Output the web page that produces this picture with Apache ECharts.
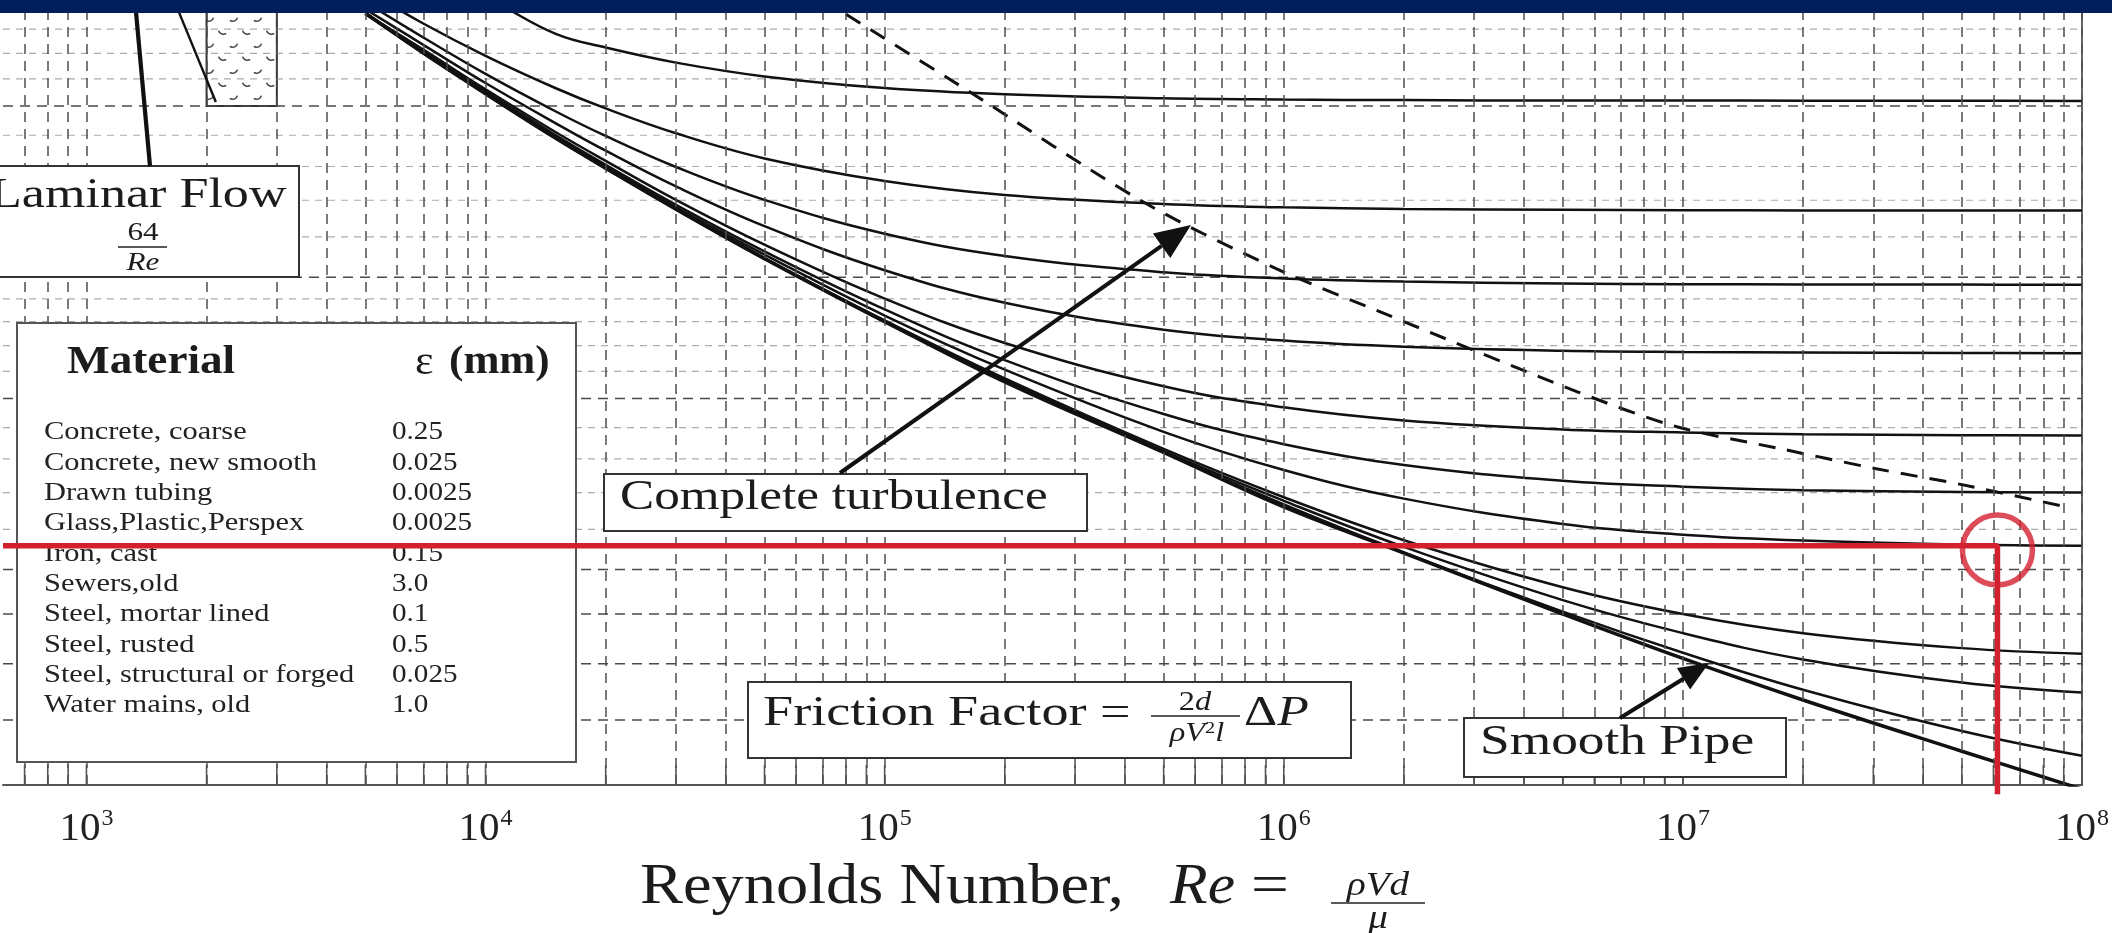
<!DOCTYPE html>
<html>
<head>
<meta charset="utf-8">
<title>Moody diagram</title>
<script src="https://cdn.jsdelivr.net/npm/echarts@6/dist/echarts.min.js"></script>
<style>
  html, body { margin: 0; padding: 0; background: #fff; }
  #chart { width: 2112px; height: 933px; }
</style>
</head>
<body>
<div id="chart"></div>
<script>
// Reynolds numbers the curves were read at
const reCols = [5e3, 7e3, 1e4, 1.5e4, 2e4, 3e4, 5e4, 1e5, 2e5, 5e5, 1e6, 2e6, 5e6, 1e7, 2e7, 5e7, 1e8];

// friction factor (eps/D)
const fSmooth = [0.0374, 0.0340, 0.0309, 0.0278, 0.0259, 0.0235, 0.0209, 0.0180, 0.0156, 0.0132, 0.0116, 0.0104, 0.0090, 0.0081, 0.00734, 0.0065, 0.00594];
const f000001 = [0.0374, 0.0340, 0.0309, 0.0278, 0.0259, 0.0235, 0.0209, 0.0180, 0.0157, 0.0132, 0.01167, 0.01041, 0.00905, 0.00821, 0.00752, 0.00682, 0.00643];
const f000005 = [0.0374, 0.0340, 0.0309, 0.0278, 0.0259, 0.0235, 0.0209, 0.0180, 0.0157, 0.01324, 0.01177, 0.01055, 0.0093, 0.0086, 0.00808, 0.00765, 0.00747];
const f00001 = [0.0374, 0.0340, 0.0309, 0.0278, 0.0259, 0.02352, 0.02093, 0.01805, 0.01573, 0.01331, 0.01187, 0.01072, 0.00959, 0.0090, 0.0086, 0.0083, 0.00819];
const f00005 = [0.0374, 0.0341, 0.0310, 0.0279, 0.0260, 0.0236, 0.0211, 0.01826, 0.01606, 0.01386, 0.01266, 0.01183, 0.01114, 0.01086, 0.01071, 0.01061, 0.01058];
const f0001 = [0.0373, 0.0341, 0.03105, 0.0280, 0.0261, 0.02374, 0.02126, 0.01853, 0.01643, 0.01446, 0.01346, 0.01281, 0.01234, 0.01217, 0.01207, 0.01202, 0.0120];
const f0002 = [0.03736, 0.03428, 0.03122, 0.0282, 0.02635, 0.02402, 0.0216, 0.01901, 0.01711, 0.01544, 0.01469, 0.01424, 0.01394, 0.01384, 0.01378, 0.01375, 0.01374];
const f0005 = [0.03775, 0.03467, 0.03169, 0.0288, 0.02699, 0.0248, 0.02257, 0.02033, 0.01882, 0.01766, 0.01721, 0.01696, 0.0168, 0.01675, 0.01673, 0.01671, 0.0167];
const f001 = [0.03839, 0.03528, 0.03238, 0.02962, 0.02795, 0.02597, 0.02402, 0.02217, 0.02103, 0.02023, 0.01994, 0.01979, 0.0197, 0.01967, 0.01966, 0.01965, 0.01964];
const f002 = [0.03951, 0.03647, 0.0338, 0.0313, 0.02984, 0.02813, 0.0265, 0.02512, 0.0243, 0.02379, 0.0236, 0.02351, 0.02346, 0.02344, 0.02343, 0.02342, 0.02342];
const f005 = [0.0435, 0.0410, 0.0388, 0.0356, 0.03447, 0.03326, 0.03219, 0.03131, 0.03085, 0.03056, 0.03047, 0.03043, 0.0304, 0.0304, 0.03039, 0.03038, 0.03037];

// laminar flow 64/Re, the short piece inside the crop
const lamRe = [1700, 2110];
const lamF = [0.0376, 0.0303];

// dashed "complete turbulence" boundary
const ctRe = [8.0e4, 1.6e5, 4.45e5, 9.6e5, 1.79e6, 5.44e6, 9.66e6, 1.75e7, 3.05e7, 5.0e7, 9.3e7];
const ctF = [0.0373, 0.0312, 0.0239, 0.0204, 0.01834, 0.01524, 0.01403, 0.01332, 0.0127, 0.01223, 0.01158];

// red read-off marker
const markRe = 6.14e7;
const markF = 0.01058;
const markBelowF = 0.00587;

// critical zone (hatched)
const critRe = [2000, 3000];
const critF = [0.03, 0.0375];

// grid lines
const xGrid = [7e2, 8e2, 9e2,
  1e3, 2e3, 3e3, 4e3, 5e3, 6e3, 7e3, 8e3, 9e3,
  1e4, 2e4, 3e4, 4e4, 5e4, 6e4, 7e4, 8e4, 9e4,
  1e5, 2e5, 3e5, 4e5, 5e5, 6e5, 7e5, 8e5, 9e5,
  1e6, 2e6, 3e6, 4e6, 5e6, 6e6, 7e6, 8e6, 9e6,
  1e7, 2e7, 3e7, 4e7, 5e7, 6e7, 7e7, 8e7, 9e7, 1e8];
const yMajor = [0.007, 0.008, 0.009, 0.01, 0.015, 0.02, 0.03];
const yMinor = [0.011, 0.012, 0.013, 0.014, 0.016, 0.017, 0.018, 0.019, 0.022, 0.024, 0.026, 0.028, 0.032, 0.034, 0.036];

// material table
const materials = ['Concrete, coarse', 'Concrete, new smooth', 'Drawn tubing', 'Glass,Plastic,Perspex', 'Iron, cast',
  'Sewers,old', 'Steel, mortar lined', 'Steel, rusted', 'Steel, structural or forged', 'Water mains, old'];
const roughnessMm = ['0.25', '0.025', '0.0025', '0.0025', '0.15', '3.0', '0.1', '0.5', '0.025', '1.0'];

const curves = [
  { name: 'smooth', vals: fSmooth, w: 3.6 },
  { name: '0.000001', vals: f000001, w: 2.5 },
  { name: '0.000005', vals: f000005, w: 2.5 },
  { name: '0.00001', vals: f00001, w: 2.5 },
  { name: '0.00005', vals: f00005, w: 2.5 },
  { name: '0.0001', vals: f0001, w: 2.5 },
  { name: '0.0002', vals: f0002, w: 2.5 },
  { name: '0.0005', vals: f0005, w: 2.5 },
  { name: '0.001', vals: f001, w: 2.5 },
  { name: '0.002', vals: f002, w: 2.5 },
  { name: '0.005', vals: f005, w: 2.5 }
];

const SERIF = '"Liberation Serif", "Times New Roman", serif';
const RED = '#d3202f';

// little cup marks for the critical zone
const pat = document.createElement('canvas');
pat.width = 24; pat.height = 26;
const pc = pat.getContext('2d');
pc.fillStyle = '#fff';
pc.fillRect(0, 0, 24, 26);
pc.strokeStyle = '#444';
pc.lineWidth = 1.5;
function cup(cx, cy, tilt) {
  pc.save(); pc.translate(cx, cy); pc.rotate(tilt);
  pc.beginPath(); pc.arc(0, -4, 5, 0.2 * Math.PI, 0.8 * Math.PI); pc.stroke();
  pc.restore();
}
cup(6, 7, 0.35); cup(18, 20, -0.35);

const chart = echarts.init(document.getElementById('chart'));

const series = [
  {
    type: 'line', name: 'grid', data: [], z: 1, silent: true,
    markLine: {
      silent: true, symbol: 'none', animation: false,
      label: { show: false },
      lineStyle: { color: '#4f4f4f', width: 1.5, type: [10, 7] },
      data: xGrid.map(v => ({ xAxis: v }))
    }
  }
];

curves.forEach(c => {
  series.push({
    type: 'line', name: c.name, z: 3,
    data: reCols.map((re, i) => [re, c.vals[i]]),
    showSymbol: false, symbol: 'none',
    smooth: 0.4,
    lineStyle: { color: '#111', width: c.w }
  });
});

series.push({
  type: 'line', name: 'complete turbulence', z: 4,
  data: ctRe.map((re, i) => [re, ctF[i]]),
  symbol: 'none', smooth: 0.3,
  lineStyle: { color: '#111', width: 3, type: [17, 12] },
  markArea: {
    silent: true,
    itemStyle: { color: { image: pat, repeat: 'repeat' }, borderColor: '#333', borderWidth: 2 },
    data: [[{ xAxis: critRe[0], yAxis: critF[0] }, { xAxis: critRe[1], yAxis: critF[1] }]]
  }
});

series.push({
  type: 'line', name: 'laminar', z: 5,
  data: lamRe.map((re, i) => [re, lamF[i]]),
  symbol: 'none',
  lineStyle: { color: '#111', width: 2.4 }
});

series.push({
  type: 'line', name: 'read-off', z: 30, zlevel: 1, clip: false,
  data: [[618, markF], [markRe, markF], [markRe, markBelowF]],
  symbol: 'none',
  lineStyle: { color: RED, width: 5.5 }
});
series.push({
  type: 'scatter', name: 'read-off point', z: 31, zlevel: 1,
  data: [[markRe, markF * 0.99]],
  symbol: 'circle', symbolSize: 70,
  itemStyle: { color: 'rgba(0,0,0,0)', borderColor: RED, borderWidth: 5.5 }
});

chart.setOption({
  animation: false,
  backgroundColor: '#fff',
  grid: { left: 0, right: 19, top: 12, bottom: 148 },
  xAxis: {
    type: 'log', logBase: 10, min: 618, max: 1e8,
    axisLine: { lineStyle: { color: '#555', width: 2 } },
    axisTick: { show: false },
    splitLine: { show: false },
    axisLabel: {
      margin: 22,
      formatter: v => {
        const e = Math.log10(v);
        if (Math.abs(e - Math.round(e)) > 1e-6) return '';
        return '{b|10}{s|' + Math.round(e) + '}';
      },
      rich: {
        b: { fontFamily: SERIF, fontSize: 41, color: '#222', lineHeight: 44 },
        s: { fontFamily: SERIF, fontSize: 24, color: '#222', lineHeight: 20, verticalAlign: 'top', padding: [0, 0, 0, 1] }
      }
    }
  },
  yAxis: {
    type: 'log', logBase: 10, min: 0.006, max: 0.0375, position: 'right',
    axisLine: { show: true, lineStyle: { color: '#666', width: 2 } },
    axisTick: { show: false },
    axisLabel: { show: false },
    splitLine: { show: false }
  },
  series: series
});

// ---- annotations ----
function label(text, x, y, size, o) {
  o = o || {};
  return {
    type: 'text', x: x, y: y, z: o.z || 12, scaleX: o.sx || 1, silent: true,
    style: {
      text: text, fill: o.color || '#1c1c1c',
      fontSize: size, fontFamily: SERIF,
      fontStyle: o.italic ? 'italic' : 'normal',
      fontWeight: o.bold ? 'bold' : 'normal',
      align: o.align || 'left', verticalAlign: 'middle',
      textAlign: o.align || 'left', textVerticalAlign: 'middle',
      rich: o.rich
    }
  };
}
function box(x1, y1, x2, y2, stroke) {
  return {
    type: 'rect', z: 10, silent: true,
    shape: { x: x1, y: y1, width: x2 - x1, height: y2 - y1 },
    style: { fill: '#fff', stroke: stroke || '#333', lineWidth: 2 }
  };
}
function seg(x1, y1, x2, y2, w, color, z, dash) {
  return {
    type: 'line', z: z || 11, silent: true,
    shape: { x1: x1, y1: y1, x2: x2, y2: y2 },
    style: { stroke: color || '#111', lineWidth: w, lineDash: dash || null }
  };
}
function arrow(x1, y1, x2, y2, w, head) {
  const a = Math.atan2(y2 - y1, x2 - x1);
  const hw = head * 0.42;
  const bx = x2 - head * Math.cos(a), by = y2 - head * Math.sin(a);
  return [
    seg(x1, y1, bx, by, w, '#111', 15),
    {
      type: 'polygon', z: 15, silent: true,
      shape: { points: [[x2, y2], [bx + hw * Math.sin(a), by - hw * Math.cos(a)], [bx - hw * Math.sin(a), by + hw * Math.cos(a)]] },
      style: { fill: '#111' }
    }
  ];
}

const els = [];

// navy band at the top of the crop
els.push({ type: 'rect', z: 40, silent: true, shape: { x: 0, y: 0, width: 2112, height: 13 }, style: { fill: '#031e5d' } });

// horizontal friction-factor grid, placed through the y scale
const gx0 = chart.convertToPixel({ gridIndex: 0 }, [618, 0.01])[0];
const gx1 = chart.convertToPixel({ gridIndex: 0 }, [1e8, 0.01])[0];
yMinor.forEach(v => {
  const y = chart.convertToPixel({ gridIndex: 0 }, [1e5, v])[1];
  els.push(seg(gx0, y, gx1, y, 1.2, '#ababab', 1, [7, 6]));
});
yMajor.forEach(v => {
  const y = chart.convertToPixel({ gridIndex: 0 }, [1e5, v])[1];
  els.push(seg(gx0, y, gx1, y, 1.5, '#4a4a4a', 1, [10, 7]));
});

// small inside ticks along the Re axis
xGrid.forEach(v => {
  const p = chart.convertToPixel({ gridIndex: 0 }, [v, 0.006]);
  els.push(seg(p[0], p[1], p[0], p[1] - 20, 1.6, '#555', 2));
});

// laminar flow label
els.push(box(-4, 166, 299, 277));
els.push(label('Laminar Flow', -10, 196, 42, { sx: 1.24 }));
els.push(label('64', 143, 233, 26, { align: 'center', sx: 1.2 }));
els.push(seg(118, 247, 167, 247, 1.5, '#222', 12));
els.push(label('Re', 143, 263, 26, { align: 'center', italic: true, sx: 1.2 }));
els.push(seg(136, 12, 150, 166, 4.2, '#111', 11));

// material table
els.push(box(17, 323, 576, 762, '#555'));
els.push(label('Material', 67, 363, 40, { bold: true, sx: 1.13 }));
els.push(label('ε', 415, 363, 40, { sx: 1.1 }));
els.push(label('(mm)', 449, 363, 40, { bold: true, sx: 1.08 }));
materials.forEach((m, i) => {
  const y = 441 + i * 30.35 - 8.6;
  els.push(label(m, 44, y, 26, { sx: 1.17, color: '#222' }));
  els.push(label(roughnessMm[i], 392, y, 26, { sx: 1.12, color: '#222' }));
});

// complete turbulence
els.push(box(604, 474, 1087, 531));
els.push(label('Complete turbulence', 620, 498, 43, { sx: 1.19 }));
els.push.apply(els, arrow(840, 473, 1191, 225, 4, 36));

// friction factor definition
els.push(box(748, 682, 1351, 758));
els.push(label('Friction Factor =', 763, 714, 43, { sx: 1.26 }));
els.push(label('{r|2}{i|d}', 1195, 703, 27, { align: 'center', sx: 1.2,
  rich: { r: { fontFamily: SERIF, fontSize: 27, fill: '#1c1c1c' }, i: { fontFamily: SERIF, fontSize: 27, fontStyle: 'italic', fill: '#1c1c1c' } } }));
els.push(seg(1151, 716, 1240, 716, 1.5, '#222', 12));
els.push(label('{i|ρV}{s|2}{i|l}', 1197, 734, 27, { align: 'center', sx: 1.2,
  rich: { i: { fontFamily: SERIF, fontSize: 27, fontStyle: 'italic', fill: '#1c1c1c' }, s: { fontFamily: SERIF, fontSize: 17, fill: '#1c1c1c', verticalAlign: 'top', lineHeight: 14 } } }));
els.push(label('{r|Δ}{i|P}', 1244, 714, 43, { sx: 1.2,
  rich: { r: { fontFamily: SERIF, fontSize: 43, fill: '#1c1c1c' }, i: { fontFamily: SERIF, fontSize: 43, fontStyle: 'italic', fill: '#1c1c1c' } } }));

// smooth pipe
els.push(box(1464, 718, 1786, 777));
els.push(label('Smooth Pipe', 1480, 743, 43, { sx: 1.24 }));
els.push.apply(els, arrow(1620, 718, 1709, 663, 4, 30));

// axis title
els.push(label('Reynolds Number,', 640, 888, 56, { sx: 1.15 }));
els.push(label('Re', 1170, 888, 56, { italic: true, sx: 1.1 }));
els.push(label('=', 1251, 888, 56, { sx: 1.2 }));
els.push(label('ρVd', 1378, 886, 34, { italic: true, align: 'center', sx: 1.15 }));
els.push(seg(1331, 903, 1425, 903, 1.6, '#222', 12));
els.push(label('μ', 1378, 919, 34, { italic: true, align: 'center', sx: 1.15 }));

chart.setOption({ graphic: { elements: els } });
</script>
</body>
</html>
